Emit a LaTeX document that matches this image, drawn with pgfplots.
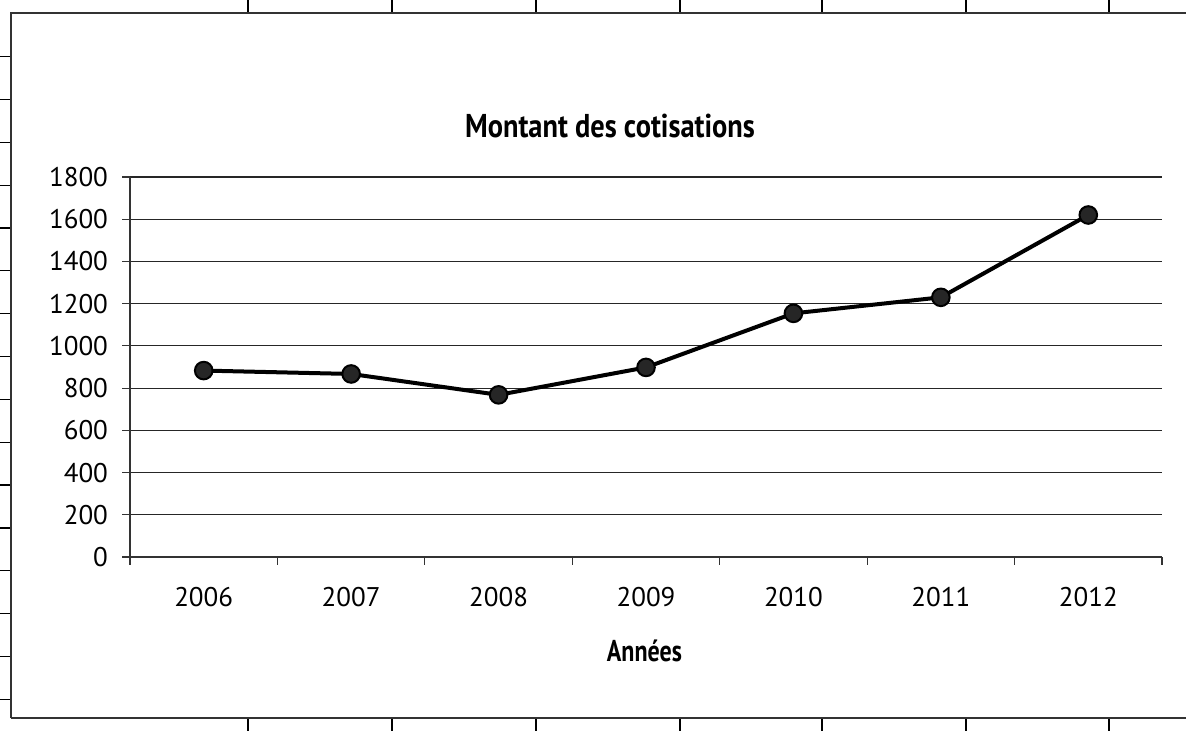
\documentclass[border=0pt]{standalone}
\usepackage{fontspec}
\setmainfont{PT Sans}
\newfontfamily\titlefont{PT Sans}[FakeStretch=0.86]
\newfontfamily\labelfont{PT Sans}[FakeStretch=0.80]
\usepackage{pgfplots}
\pgfplotsset{compat=1.18}
\begin{document}
\begin{tikzpicture}[x=0.5pt,y=0.5pt]
\useasboundingbox (0,0) rectangle (1186,731);
\foreach \xx in {248,392,536,680,822,966,1109} {
  \draw[black, line width=0.6pt] (\xx,718) -- (\xx,731);
  \draw[black, line width=0.6pt] (\xx,0) -- (\xx,13);
}
\foreach \k in {0,...,15} {
  \draw[black, line width=0.6pt] (0,{731-56.7-42.84*\k}) -- (11,{731-56.7-42.84*\k});
}
\draw[black!80, line width=1.1pt] (11,13) -- (11,718) -- (1186,718);
\draw[black!80, line width=1.1pt] (11,13) -- (1186,13);
\begin{axis}[
  at={(65pt,87pt)}, anchor=south west,
  scale only axis, width=516pt, height=190pt,
  xmin=0.5, xmax=7.5, ymin=0, ymax=1800,
  axis x line*=bottom, axis y line*=left,
  axis line style={black!80, line width=0.6pt},
  ytick={0,200,...,1800},
  ymajorgrids, grid style={black!85, line width=0.6pt},
  xtick={0.5,1.5,...,7.5}, xticklabels={},
  extra x ticks={1,2,3,4,5,6,7},
  extra x tick labels={2006,2007,2008,2009,2010,2011,2012},
  extra x tick style={major tick length=0pt, xticklabel style={yshift=-11.5pt}},
  yticklabel style={xshift=-3.5pt},
  tick align=outside, major tick length=4pt,
  tick style={black!80, line width=0.6pt},
  ticklabel style={font=\fontsize{13.5}{16}\selectfont},
  /pgf/number format/assume math mode=true,
  /pgf/number format/1000 sep={},
  clip=false,
]
\addplot[black, line width=2pt, mark=*, mark size=4.4pt,
  mark options={fill=black!85, draw=black, line width=1pt}]
  coordinates {(1,883)(2,867)(3,768)(4,898)(5,1154)(6,1230)(7,1620)};
\end{axis}
\node[anchor=base, font=\titlefont\bfseries\fontsize{16.5}{20}\selectfont, inner sep=0pt] at (610,593) {Montant des cotisations};
\node[anchor=base, font=\labelfont\bfseries\fontsize{15}{18}\selectfont, inner sep=0pt] at (644.5,69) {Années};
\end{tikzpicture}
\end{document}
